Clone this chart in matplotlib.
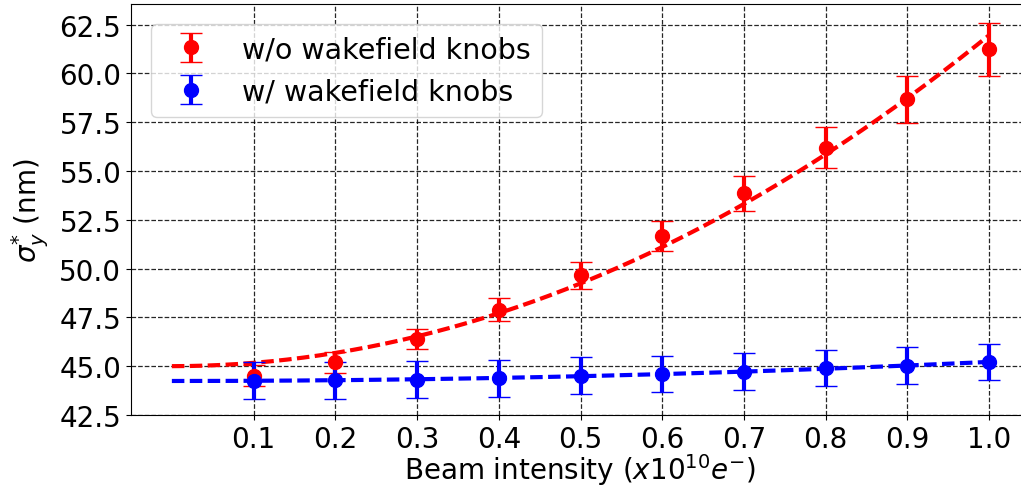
import numpy as np
import matplotlib
matplotlib.use("Agg")
import matplotlib.pyplot as plt

# beam intensity in units of 1e10 electrons
intensity = [0.1, 0.2, 0.3, 0.4, 0.5, 0.6, 0.7, 0.8, 0.9, 1.0]

# vertical IP beam size without wakefield knobs (nm)
sigma_wo = [44.52, 45.20, 46.40, 47.90, 49.66, 51.66, 53.86, 56.20, 58.66, 61.22]
err_wo = [0.55, 0.55, 0.53, 0.58, 0.69, 0.77, 0.90, 1.06, 1.19, 1.36]

# with wakefield knobs (nm)
sigma_w = [44.26, 44.27, 44.31, 44.38, 44.52, 44.60, 44.72, 44.90, 45.03, 45.20]
err_w = [0.93, 0.95, 0.95, 0.96, 0.95, 0.94, 0.93, 0.93, 0.93, 0.93]


def quad_fit(x, y):
    # least squares for sigma = a + b*N^2
    x = np.asarray(x)
    A = np.vstack([np.ones_like(x), x ** 2]).T
    coef, *_ = np.linalg.lstsq(A, np.asarray(y), rcond=None)
    return coef


plt.rcParams['font.family'] = 'DejaVu Sans'

fig = plt.figure(figsize=(10.21, 4.89), dpi=100)
ax = fig.add_axes([131 / 1021, 1 - 416 / 489, 899 / 1021, 411 / 489])

xf = np.linspace(0, 1.0, 200)
a_wo, b_wo = quad_fit(intensity, sigma_wo)
a_w, b_w = quad_fit(intensity, sigma_w)

ax.plot(xf, a_wo + b_wo * xf ** 2, color='red', lw=3, dashes=(3.0, 1.3), zorder=3)
ax.plot(xf, a_w + b_w * xf ** 2, color='blue', lw=3, dashes=(3.0, 1.3), zorder=3)

ax.errorbar(intensity, sigma_wo, yerr=err_wo, fmt='o', color='red', ms=10,
            elinewidth=3, capsize=8, capthick=1, label='w/o wakefield knobs', zorder=4)
ax.errorbar(intensity, sigma_w, yerr=err_w, fmt='o', color='blue', ms=10,
            elinewidth=3, capsize=8, capthick=1, label='w/ wakefield knobs', zorder=4)

ax.set_xlim(-0.05, 1.05)
ax.set_ylim(42.5, 63.55)
ax.set_xticks(intensity)
ax.set_yticks(np.arange(42.5, 63, 2.5))
ax.tick_params(labelsize=20)
ax.grid(True, color='k', linestyle='--', lw=0.9, alpha=0.85)
ax.set_axisbelow(True)

ax.set_xlabel(r'Beam intensity ($x10^{10}e^{-}$)', fontsize=20, labelpad=-1)
ax.set_ylabel(r'$\sigma^{*}_{y}$ (nm)', fontsize=20, labelpad=6)

ax.legend(loc='upper left', fontsize=20.5, borderaxespad=0.7)

fig.savefig('out.png', dpi=100)
